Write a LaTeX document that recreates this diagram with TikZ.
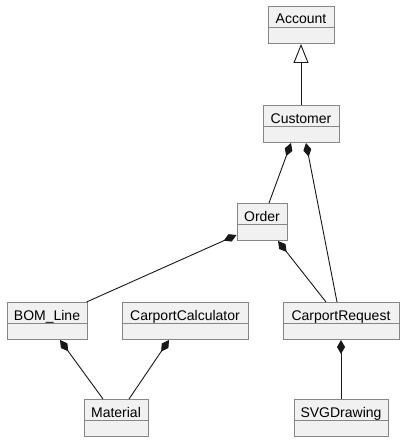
\documentclass[tikz,border=0pt]{standalone}
\usepackage{fontspec}
\setmainfont{Liberation Sans}
\usetikzlibrary{arrows.meta}
\definecolor{boxfill}{HTML}{F1F1F1}
\definecolor{boxline}{HTML}{868686}
\definecolor{conn}{HTML}{181818}
\tikzset{
  cls/.style={draw=boxline, fill=boxfill, line width=1pt, rectangle,
    inner xsep=0pt, inner ysep=0pt, text height=17.5pt, text depth=19.5pt,
    font=\fontsize{14}{16}\selectfont, anchor=north,
    path picture={\draw[boxline, line width=1pt]
      ([yshift=-21pt]path picture bounding box.north west) --
      ([yshift=-21pt]path picture bounding box.north east);}},
  comp/.style={draw=conn, line width=0.9pt, {Diamond[length=14pt,width=8pt,fill=conn]}-},
  inh/.style={draw=conn, line width=0.9pt, {Triangle[open,length=19pt,width=15pt,fill=white]}-}
}
\begin{document}
\begin{tikzpicture}[x=1pt,y=-1pt]
\useasboundingbox[fill=white] (0,0) rectangle (403,441);
\node[cls, minimum width=66pt] (acc) at (301,6) {Account};
\node[cls, minimum width=76pt] (cust) at (301,105) {Customer};
\node[cls, minimum width=50pt] (order) at (262,203) {Order};
\node[cls, minimum width=116pt] (creq) at (341,302) {CarportRequest};
\node[cls, minimum width=80pt] (bom) at (47,302) {BOM\_Line};
\node[cls, minimum width=126pt] (calc) at (185,302) {CarportCalculator};
\node[cls, minimum width=64pt] (mat) at (116,399) {Material};
\node[cls, minimum width=94pt] (svg) at (341,399) {SVGDrawing};

\draw[inh] (acc.south) -- (cust.north);
\draw[comp] ([xshift=-10pt]cust.south) -- ([xshift=7pt]order.north);
\draw[comp] ([xshift=5pt]cust.south) -- ([xshift=-4pt]creq.north);
\draw[comp] ([yshift=6pt]order.south west) -- ([xshift=-1pt]bom.north east);
\draw[comp] ([xshift=16pt]order.south) -- ([xshift=-15pt]creq.north);
\draw[comp] ([xshift=13pt]bom.south) -- ([xshift=-13pt]mat.north);
\draw[comp] ([xshift=-16pt]calc.south) -- ([xshift=13pt]mat.north);
\draw[comp] (creq.south) -- (svg.north);
\end{tikzpicture}
\end{document}
